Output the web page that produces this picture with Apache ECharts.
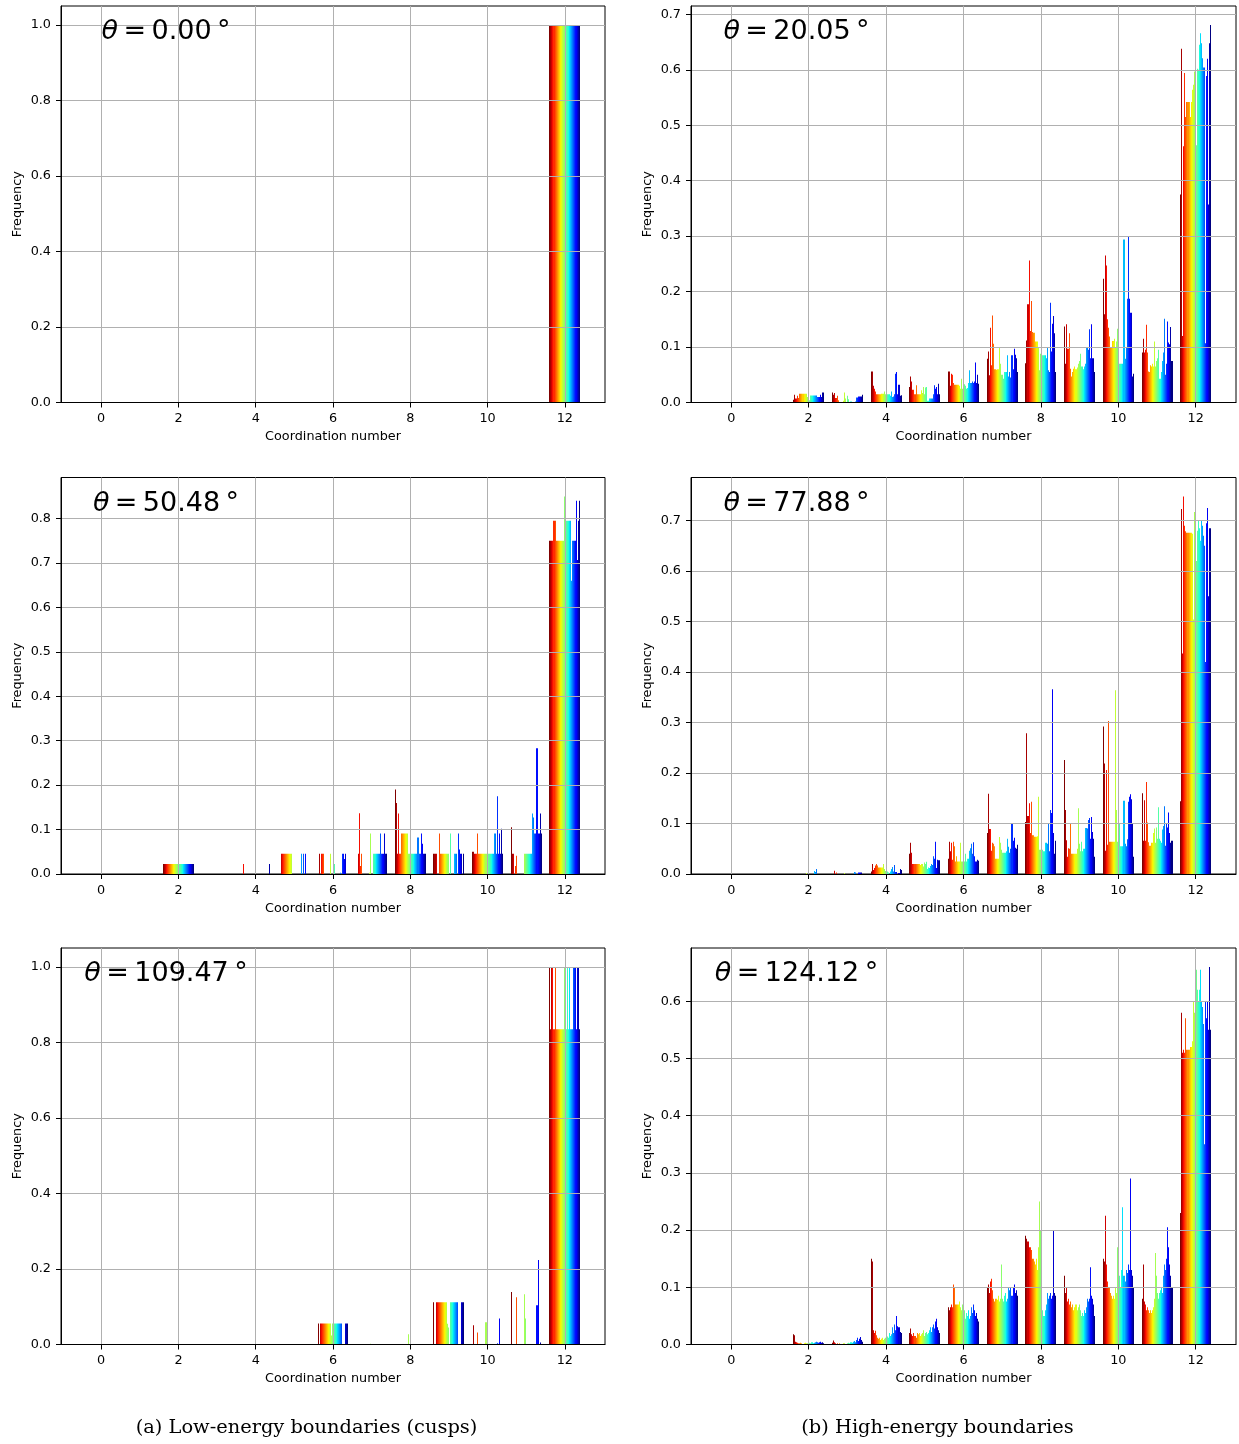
<!DOCTYPE html>
<html><head><meta charset="utf-8">
<script src="https://cdn.jsdelivr.net/npm/echarts@6/dist/echarts.min.js"></script>
<style>html,body{margin:0;padding:0;background:#fff}#main{width:1239px;height:1444px}</style>
</head><body><div id="main"></div>
<script>
// ---------------- data ----------------
const coordinationNumbers = [0,1,2,3,4,5,6,7,8,9,10,11,12];
const xTickValues = [0,2,4,6,8,10,12];
const nSeries = 30; // boundaries, coloured dark red -> dark blue
const thetaLabels = ['0.00','20.05','50.48','77.88','109.47','124.12'];
const yTicks02 = [0,0.2,0.4,0.6,0.8,1.0];
const yTicks07 = [0,0.1,0.2,0.3,0.4,0.5,0.6,0.7];
const yTicks08 = [0,0.1,0.2,0.3,0.4,0.5,0.6,0.7,0.8];
const yTicks06 = [0,0.1,0.2,0.3,0.4,0.5,0.6];
const captionLow = '(a) Low-energy boundaries (cusps)';
const captionHigh = '(b) High-energy boundaries';

const Z = [0,0,0,0,0,0,0,0,0,0,0,0,0,0,0,0,0,0,0,0,0,0,0,0,0,0,0,0,0,0];

// each row = one coordination number (0..12), 30 values = one per boundary
const freqTheta0 = [Z,Z,Z,Z,Z,Z,Z,Z,Z,Z,Z,Z,
 [1,1,1,1,1,1,1,1,1,1,1,1,1,1,1,1,1,1,1,1,1,1,1,1,1,1,1,1,1,1]];

const freqTheta20 = [Z,Z,
 [0.005,0.014,0.007,0.007,0.012,0.008,0.016,0.016,0.016,0.016,0.016,0.016,0.016,0.01,0.008,0.004,0.0126,0.0126,0.0126,0.0126,0.0126,0.0126,0.0126,0.01,0.01,0.01,0.014,0.01,0.018,0.018],
 [0.018,0.014,0.017,0.008,0.008,0.012,0.004,0,0,0,0,0.003,0.018,0.007,0,0.012,0.006,0,0.002,0,0,0,0.002,0.009,0.009,0.011,0.011,0.011,0.011,0.014],
 [0.056,0.056,0.03,0.025,0.02,0.015,0.015,0.015,0.015,0.015,0.016,0.016,0.016,0.02,0.015,0.015,0.015,0.015,0.015,0.012,0.02,0.01,0.011,0.015,0.052,0.055,0.015,0.032,0.012,0.013],
 [0.028,0.047,0.038,0.023,0.023,0.015,0.031,0.015,0.015,0.015,0.015,0.022,0.017,0.028,0.015,0.027,0.028,0.003,0.003,0.007,0.007,0.007,0.007,0.015,0.031,0.025,0.028,0.015,0.034,0.015],
 [0.056,0.056,0.03,0.052,0.05,0.035,0.032,0.032,0.032,0.032,0.032,0.03,0.025,0.043,0.025,0.033,0.03,0.025,0.026,0.035,0.058,0.035,0.035,0.038,0.035,0.038,0.072,0.035,0.05,0.034],
 [0.079,0.092,0.049,0.135,0.067,0.157,0.106,0.06,0.06,0.059,0.06,0.06,0.1,0.07,0.05,0.05,0.043,0.055,0.055,0.055,0.085,0.047,0.055,0.045,0.085,0.06,0.097,0.086,0.08,0.055],
 [0.071,0.112,0.177,0.256,0.129,0.183,0.127,0.126,0.126,0.11,0.11,0.11,0.1,0.058,0.088,0.08,0.085,0.085,0.085,0.085,0.08,0.1,0.058,0.055,0.18,0.092,0.142,0.156,0.125,0.055],
 [0.137,0.07,0.141,0.097,0.097,0.125,0.061,0.047,0.055,0.061,0.065,0.06,0.063,0.07,0.075,0.088,0.065,0.065,0.06,0.065,0.07,0.099,0.099,0.095,0.132,0.08,0.141,0.08,0.08,0.055],
 [0.223,0.159,0.265,0.247,0.15,0.135,0.119,0.1,0.1,0.111,0.111,0.115,0.1,0.11,0.133,0.105,0.07,0.07,0.07,0.07,0.294,0.079,0.1,0.187,0.3,0.187,0.162,0.162,0.047,0.052],
 [0.09,0.115,0.09,0.095,0.14,0.09,0.056,0.055,0.067,0.065,0.07,0.065,0.11,0.065,0.075,0.08,0.095,0.043,0.043,0.055,0.075,0.09,0.151,0.05,0.07,0.146,0.108,0.105,0.136,0.075],
 [0.375,0.638,0.12,0.462,0.594,0.515,0.542,0.542,0.542,0.515,0.542,0.564,0.573,0.597,0.658,0.464,0.602,0.6,0.645,0.666,0.648,0.621,0.604,0.604,0.107,0.589,0.62,0.357,0.648,0.681]];

const freqTheta50 = [Z,Z,
 [0.0227,0.0227,0.0227,0.0227,0.0227,0.0227,0.0227,0.0227,0.0227,0.0227,0.0227,0.0227,0.0227,0.0227,0.0227,0,0.0227,0.0227,0.0227,0.0227,0.0227,0.0227,0.0227,0.0227,0.0227,0.0227,0.0227,0.0227,0.0227,0.0227],
 Z,
 [0,0,0,0.0227,0,0,0,0,0,0,0,0,0,0,0,0,0,0,0,0,0,0,0,0,0,0,0,0,0.0227,0],
 [0,0,0.0455,0.0455,0.0455,0.0455,0.0455,0.0455,0.0455,0.0455,0.0455,0.0455,0.0455,0,0,0,0,0,0,0,0,0.0455,0,0.0455,0,0.0455,0,0,0,0],
 [0,0.0455,0,0.0455,0.0455,0.0455,0,0,0,0,0,0,0.0455,0,0,0,0.0227,0,0,0,0,0,0.003,0,0.0455,0.0455,0.034,0.0455,0,0],
 [0,0,0.0455,0.137,0.018,0.0455,0,0,0,0,0,0,0.003,0.091,0,0,0.0455,0.0455,0.0455,0.0455,0.0455,0.0455,0.0455,0.091,0.0455,0.0455,0.0455,0.091,0.0455,0.0455],
 [0.19,0.16,0.0455,0.136,0.0455,0.0455,0.091,0.091,0.091,0.091,0.091,0.091,0.091,0.0455,0.0455,0.0455,0.0455,0.0455,0.0455,0.0455,0.0455,0.0455,0.082,0.0455,0.0455,0.091,0.068,0.0455,0.0455,0.0455],
 [0.0455,0.0455,0.0455,0,0,0.091,0.0455,0.0455,0.0455,0.0455,0.0455,0.0455,0.0455,0.0455,0.0455,0,0.091,0,0,0,0.0455,0.0455,0.0455,0,0.091,0.055,0.0455,0.0455,0,0.0455],
 [0.05,0.05,0.0455,0.0455,0.0455,0.091,0.0455,0.0455,0.0455,0.0455,0.0455,0.0455,0.0455,0.0455,0.0455,0.0455,0.0455,0.0455,0.0455,0.0455,0.0455,0.091,0.091,0.0455,0.175,0.0455,0.091,0.0455,0.102,0.0455],
 [0.105,0.0455,0.0455,0,0.018,0.041,0,0,0,0,0,0,0,0.0455,0.0455,0.0455,0.0455,0.0455,0.0455,0.0455,0.0455,0.136,0.127,0.091,0.091,0.283,0.091,0.091,0.136,0.091],
 [0.75,0.75,0.75,0.75,0.795,0.795,0.75,0.75,0.75,0.75,0.75,0.75,0.75,0.75,0.85,0.795,0.795,0.795,0.795,0.795,0.795,0.66,0.75,0.75,0.75,0.75,0.84,0.707,0.795,0.84]];

const freqTheta78 = [Z,Z,
 [0,0,0,0,0,0,0,0,0,0,0,0,0.002,0,0,0,0,0,0,0,0.006,0.004,0.01,0,0,0,0,0,0,0],
 [0,0,0.0066,0,0.003,0,0,0,0,0,0,0,0.002,0,0,0,0,0,0,0,0,0.004,0.003,0,0,0.003,0.003,0.003,0.003,0],
 [0.005,0.02,0.008,0.012,0.017,0.02,0.017,0.013,0.013,0.013,0.013,0.013,0.02,0.01,0.006,0,0.005,0.003,0,0.005,0.01,0.014,0.005,0.018,0.004,0.004,0,0.002,0.01,0.008],
 [0.04,0.062,0.042,0.02,0.02,0.02,0.02,0.02,0.02,0.02,0.018,0.02,0.02,0.015,0.023,0.02,0.0245,0.01,0.013,0.012,0.016,0.02,0.018,0.035,0.03,0.064,0.012,0.028,0.027,0.027],
 [0.03,0.064,0.045,0.062,0.028,0.064,0.055,0.025,0.035,0.025,0.025,0.025,0.062,0.025,0.025,0.025,0.04,0.025,0.03,0.03,0.046,0.051,0.06,0.04,0.063,0.035,0.025,0.025,0.028,0.026],
 [0.081,0.159,0.089,0.089,0.046,0.062,0.06,0.055,0.03,0.03,0.03,0.03,0.0735,0.062,0.048,0.042,0.042,0.042,0.042,0.045,0.07,0.054,0.042,0.05,0.101,0.066,0.072,0.052,0.05,0.058],
 [0.103,0.279,0.115,0.14,0.081,0.143,0.077,0.077,0.074,0.074,0.074,0.075,0.153,0.048,0.048,0.08,0.048,0.045,0.045,0.062,0.062,0.06,0.099,0.045,0.127,0.121,0.366,0.081,0.04,0.066],
 [0.226,0.127,0.067,0.034,0.051,0.05,0.101,0.04,0.04,0.04,0.04,0.04,0.05,0.13,0.06,0.045,0.064,0.045,0.05,0.05,0.091,0.091,0.09,0.107,0.111,0.07,0.113,0.083,0.07,0.034],
 [0.292,0.219,0.046,0.206,0.058,0.303,0.064,0.064,0.064,0.064,0.064,0.064,0.364,0.127,0.064,0.1,0.1,0.055,0.055,0.055,0.145,0.06,0.055,0.069,0.143,0.153,0.158,0.148,0.1,0.034],
 [0.16,0.066,0.146,0.066,0.182,0.102,0.063,0.056,0.056,0.062,0.062,0.081,0.09,0.062,0.092,0.07,0.132,0.07,0.066,0.062,0.088,0.095,0.134,0.056,0.099,0.092,0.122,0.081,0.062,0.066],
 [0.144,0.723,0.437,0.748,0.69,0.679,0.676,0.676,0.676,0.676,0.676,0.674,0.504,0.717,0.62,0.62,0.68,0.7,0.685,0.66,0.7,0.69,0.67,0.65,0.42,0.695,0.725,0.55,0.685,0.685]];

const freqTheta109 = [Z,Z,Z,Z,Z,Z,
 [0.0556,0,0.0556,0.0556,0.0556,0.0556,0.0556,0.0556,0.0556,0.0556,0.0556,0.0556,0.0556,0.024,0.0556,0.0556,0.0556,0.0556,0.0556,0.0556,0.0556,0.0556,0.0556,0.0556,0,0,0,0.0556,0.0556,0.0556],
 [0,0,0,0,0,0,0,0,0,0,0,0,0,0.002,0,0,0,0,0,0,0,0,0,0,0,0,0,0,0,0],
 [0,0,0,0,0,0,0,0,0,0,0,0,0,0.027,0,0,0,0,0,0,0,0,0,0,0,0,0,0,0,0],
 [0.112,0,0.112,0.112,0.112,0.112,0.112,0.112,0.112,0.112,0.112,0.112,0.112,0.055,0.045,0,0.112,0.112,0.112,0.112,0.112,0.112,0.112,0.112,0,0,0,0.112,0.112,0.112],
 [0,0.051,0,0,0,0.032,0,0,0,0,0,0,0,0.059,0,0,0,0,0,0,0,0,0,0,0.003,0,0.069,0,0,0],
 [0.139,0,0,0,0,0.125,0,0,0,0,0,0,0,0.133,0.069,0,0,0,0,0,0,0,0,0,0,0.104,0.224,0,0.005,0],
 [1.0,0.835,1.0,1.0,0.835,1.0,0.835,0.835,0.835,0.835,0.835,0.835,0.835,0.835,1.0,0.835,0.835,1.0,0.835,1.0,0.835,0.835,0.835,1.0,1.0,1.0,0.835,1.0,1.0,0.835]];

const freqTheta124 = [Z,Z,
 [0.018,0.016,0.005,0.004,0.003,0.002,0.002,0.003,0.002,0,0.002,0.003,0.002,0.002,0,0.003,0.002,0.004,0.004,0.002,0.003,0.004,0.005,0.004,0.003,0.004,0.005,0.003,0.004,0.002],
 [0.003,0.007,0.004,0.002,0,0.002,0.001,0.002,0,0,0.001,0.002,0.002,0,0.001,0.002,0.003,0.002,0.004,0.003,0.005,0.006,0.004,0.008,0.012,0.006,0.01,0.013,0.008,0.005],
 [0.15,0.145,0.025,0.02,0.024,0.016,0.012,0.01,0.012,0.008,0.01,0.012,0.008,0.01,0.012,0.01,0.014,0.012,0.02,0.015,0.018,0.03,0.02,0.035,0.025,0.05,0.032,0.03,0.022,0.02],
 [0.02,0.028,0.018,0.015,0.02,0.015,0.012,0.02,0.018,0.02,0.015,0.018,0.02,0.025,0.015,0.02,0.022,0.018,0.02,0.025,0.03,0.022,0.03,0.035,0.028,0.04,0.045,0.03,0.025,0.02],
 [0.065,0.06,0.065,0.07,0.065,0.105,0.1,0.07,0.07,0.07,0.07,0.075,0.065,0.06,0.07,0.06,0.045,0.055,0.05,0.06,0.045,0.05,0.065,0.055,0.07,0.06,0.05,0.055,0.045,0.04],
 [0.1,0.105,0.09,0.11,0.115,0.095,0.08,0.075,0.08,0.08,0.078,0.085,0.075,0.08,0.14,0.08,0.075,0.085,0.09,0.075,0.08,0.1,0.095,0.1,0.085,0.1,0.105,0.09,0.095,0.085],
 [0.19,0.185,0.18,0.17,0.17,0.165,0.15,0.15,0.145,0.14,0.15,0.13,0.17,0.25,0.2,0.12,0.06,0.05,0.05,0.06,0.07,0.09,0.08,0.085,0.09,0.08,0.085,0.2,0.09,0.085],
 [0.12,0.09,0.1,0.075,0.08,0.07,0.075,0.065,0.07,0.06,0.065,0.07,0.06,0.065,0.07,0.06,0.05,0.055,0.05,0.06,0.055,0.065,0.08,0.075,0.08,0.135,0.085,0.08,0.07,0.05],
 [0.15,0.145,0.225,0.14,0.11,0.1,0.1,0.09,0.085,0.08,0.085,0.08,0.1,0.09,0.17,0.11,0.12,0.1,0.13,0.24,0.12,0.11,0.13,0.125,0.14,0.13,0.29,0.13,0.12,0.1],
 [0.08,0.14,0.075,0.07,0.06,0.065,0.06,0.055,0.06,0.055,0.06,0.065,0.08,0.16,0.12,0.09,0.08,0.09,0.095,0.1,0.09,0.12,0.14,0.13,0.15,0.205,0.17,0.14,0.12,0.1],
 [0.23,0.58,0.51,0.515,0.51,0.57,0.515,0.515,0.515,0.52,0.52,0.53,0.6,0.58,0.62,0.655,0.62,0.6,0.62,0.655,0.6,0.59,0.56,0.35,0.6,0.57,0.6,0.55,0.66,0.55]];

// ---------------- layout / style ----------------
const panels = [
  {rows: freqTheta0,   yTicks: yTicks02, left: 61,  width: 544, top: 6,     label: thetaLabels[0], cx: 166},
  {rows: freqTheta20,  yTicks: yTicks07, left: 691, width: 545, top: 6,     label: thetaLabels[1], cx: 796.5},
  {rows: freqTheta50,  yTicks: yTicks08, left: 61,  width: 544, top: 477.5, label: thetaLabels[2], cx: 166},
  {rows: freqTheta78,  yTicks: yTicks07, left: 691, width: 545, top: 477.5, label: thetaLabels[3], cx: 796.5},
  {rows: freqTheta109, yTicks: yTicks02, left: 61,  width: 544, top: 948,   label: thetaLabels[4], cx: 166},
  {rows: freqTheta124, yTicks: yTicks06, left: 691, width: 545, top: 948,   label: thetaLabels[5], cx: 796.5}
];
const panelHeight = 396.5;
const FONT = 'DejaVu Sans';
const FS = 12.8;

// matplotlib 'jet' colormap, reversed (dark red first)
const JR=[[0,0],[0.35,0],[0.66,1],[0.89,1],[1,0.5]];
const JG=[[0,0],[0.125,0],[0.375,1],[0.64,1],[0.91,0],[1,0]];
const JB=[[0,0.5],[0.11,1],[0.34,1],[0.65,0],[1,0]];
function seg(pts,t){for(let k=1;k<pts.length;k++){if(t<=pts[k][0]){const a=pts[k-1],b=pts[k];return a[1]+(b[1]-a[1])*(t-a[0])/(b[0]-a[0]);}}return pts[pts.length-1][1];}
const colors = [];
for (let i=0;i<nSeries;i++){const t=1-i/(nSeries-1);colors.push('rgb('+Math.round(255*seg(JR,t))+','+Math.round(255*seg(JG,t))+','+Math.round(255*seg(JB,t))+')');}

function renderBar(params, api){
  const cn=api.value(0), idx=api.value(1), v=api.value(2);
  if (!(v>0)) return null;
  const w = 0.8/nSeries;
  const xa = cn-0.4+idx*w, xb = xa+w;
  const pT = api.coord([xa, v]), pB = api.coord([xb, 0]);
  const x0 = Math.round(pT[0]), x1 = Math.round(pB[0]);
  const yb = Math.round(pB[1]);
  return {type:'rect', shape:{x:x0, y:pT[1], width:Math.max(1,x1-x0), height:yb-pT[1]}, style:{fill:colors[idx]}};
}

const grids=[], xAxes=[], yAxes=[], series=[], graphics=[];
panels.forEach((p,k)=>{
  grids.push({left:p.left, top:p.top, width:p.width, height:panelHeight, show:true, borderColor:'#000', borderWidth:1, backgroundColor:'transparent'});
  xAxes.push({gridIndex:k, type:'value', min:-1.04, max:13.04, z:3,
    name:'Coordination number', nameLocation:'middle', nameGap:28,
    nameTextStyle:{fontFamily:FONT, fontSize:FS, color:'#000'},
    axisLine:{show:true, onZero:false, lineStyle:{color:'#000', width:1}},
    axisTick:{show:true, inside:false, length:5, lineStyle:{color:'#000'}, customValues:xTickValues},
    axisLabel:{show:true, margin:10, fontFamily:FONT, fontSize:FS, color:'#000', customValues:xTickValues, formatter:v=>String(v)},
    splitLine:{show:true, lineStyle:{color:'#b0b0b0', width:1}}});
  let mx=0; p.rows.forEach(r=>r.forEach(v=>{if(v>mx)mx=v;}));
  yAxes.push({gridIndex:k, type:'value', min:0, max:mx*1.05, z:3,
    name:'Frequency', nameLocation:'middle', nameGap:37, nameRotate:90,
    nameTextStyle:{fontFamily:FONT, fontSize:FS, color:'#000'},
    axisLine:{show:true, onZero:false, lineStyle:{color:'#000', width:1}},
    axisTick:{show:true, inside:false, length:5, lineStyle:{color:'#000'}, customValues:p.yTicks},
    axisLabel:{show:true, margin:10, fontFamily:FONT, fontSize:FS, color:'#000', customValues:p.yTicks, formatter:v=>v.toFixed(1)},
    splitLine:{show:true, lineStyle:{color:'#b0b0b0', width:1}}});
  const data=[];
  coordinationNumbers.forEach(cn=>{p.rows[cn].forEach((v,i)=>data.push([cn,i,v]));});
  series.push({type:'custom', xAxisIndex:k, yAxisIndex:k, z:1, renderItem:renderBar, data:data, encode:{x:0,y:2}, silent:true});
  graphics.push({type:'text', x:p.cx, y:p.top+26, z:10, style:{
    text:'{th|θ}{rest|\u2009=\u2009'+p.label+'\u2009°}', align:'center', verticalAlign:'middle',
    rich:{th:{fontFamily:FONT, fontStyle:'italic', fontSize:27, fill:'#000'}, rest:{fontFamily:FONT, fontSize:27, fill:'#000'}}}});
});
graphics.push({type:'text', x:306.5, y:1428, style:{text:captionLow, align:'center', verticalAlign:'middle', fontFamily:'DejaVu Serif', fontSize:19.4, fill:'#000'}});
graphics.push({type:'text', x:937.5, y:1428, style:{text:captionHigh, align:'center', verticalAlign:'middle', fontFamily:'DejaVu Serif', fontSize:19.4, fill:'#000'}});

const chart = echarts.init(document.getElementById('main'), null, {renderer:'canvas', width:1239, height:1444});
chart.setOption({backgroundColor:'#fff', animation:false, grid:grids, xAxis:xAxes, yAxis:yAxes, series:series, graphic:graphics});
</script></body></html>
